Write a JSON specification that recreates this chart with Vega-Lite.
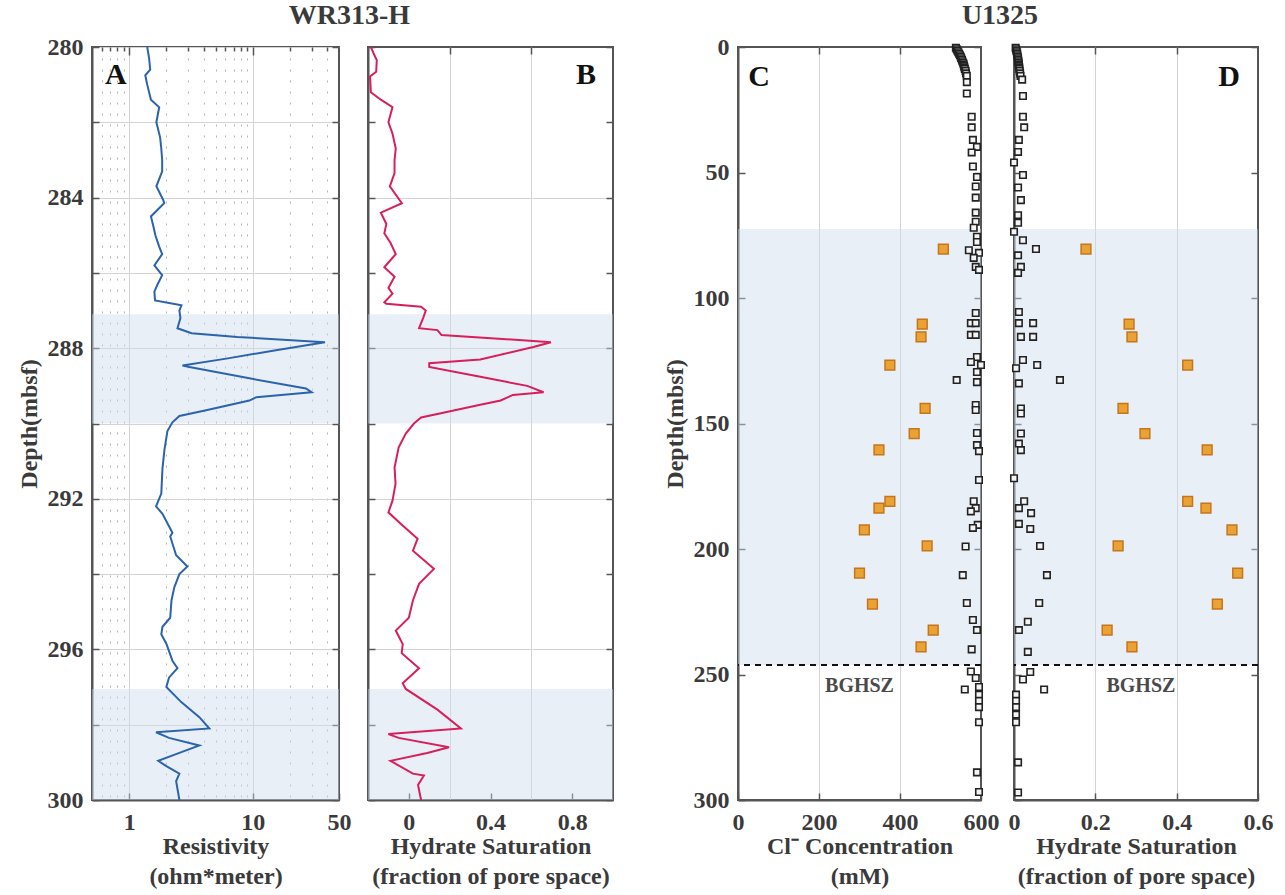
{
  "$schema": "https://vega.github.io/schema/vega-lite/v6.json",
  "background": "white",
  "padding": {"left": 16, "top": 2, "right": 5, "bottom": 2},
  "config": {
    "view": {"stroke": "#555555", "strokeWidth": 2},
    "font": "Liberation Serif",
    "axis": {
      "labelFont": "Liberation Serif", "labelFontWeight": "bold", "labelFontSize": 24, "labelColor": "#3a3a3a",
      "titleFont": "Liberation Serif", "titleFontWeight": "bold", "titleFontSize": 24, "titleColor": "#3a3a3a",
      "domainColor": "#555555", "domainWidth": 2, "tickColor": "#555555", "tickWidth": 1.5,
      "gridColor": "#d4d4d4", "gridWidth": 1, "labelFlush": false
    },
    "title": {"font": "Liberation Serif", "fontSize": 28, "fontWeight": "bold", "color": "#3a3a3a", "anchor": "middle", "offset": 0}
  },
  "datasets": {
    "wr_shade": [{"top": 287.1, "bottom": 290.0}, {"top": 297.05, "bottom": 300.0}],
    "u_shade": [{"top": 72.5, "bottom": 246.2}],
    "u_bghsz": [{"depth": 246.2, "label": "BGHSZ"}],
    "wr_res": [
      {"depth": 280.0, "res": 1.40}, {"depth": 280.3, "res": 1.45}, {"depth": 280.6, "res": 1.48}, {"depth": 280.75, "res": 1.35},
      {"depth": 281.0, "res": 1.40}, {"depth": 281.4, "res": 1.50}, {"depth": 281.6, "res": 1.75}, {"depth": 282.0, "res": 1.66},
      {"depth": 282.4, "res": 1.78}, {"depth": 282.7, "res": 1.82}, {"depth": 283.0, "res": 1.85}, {"depth": 283.3, "res": 1.85},
      {"depth": 283.7, "res": 1.66}, {"depth": 284.07, "res": 1.89}, {"depth": 284.15, "res": 1.92}, {"depth": 284.5, "res": 1.50},
      {"depth": 284.8, "res": 1.58}, {"depth": 285.0, "res": 1.63}, {"depth": 285.3, "res": 1.75}, {"depth": 285.5, "res": 1.85},
      {"depth": 285.8, "res": 1.60}, {"depth": 286.06, "res": 1.85}, {"depth": 286.3, "res": 1.70}, {"depth": 286.5, "res": 1.60},
      {"depth": 286.73, "res": 1.62}, {"depth": 286.86, "res": 2.65}, {"depth": 287.0, "res": 2.55}, {"depth": 287.2, "res": 2.60},
      {"depth": 287.47, "res": 2.46}, {"depth": 287.6, "res": 3.2}, {"depth": 287.7, "res": 7.5}, {"depth": 287.84, "res": 38.5},
      {"depth": 288.06, "res": 15}, {"depth": 288.27, "res": 6.3}, {"depth": 288.46, "res": 2.7}, {"depth": 288.5, "res": 3.07},
      {"depth": 288.8, "res": 9.4}, {"depth": 289.07, "res": 27}, {"depth": 289.17, "res": 30}, {"depth": 289.3, "res": 10.7},
      {"depth": 289.39, "res": 9.4}, {"depth": 289.65, "res": 4.2}, {"depth": 289.8, "res": 2.55}, {"depth": 289.97, "res": 2.24},
      {"depth": 290.2, "res": 2.04}, {"depth": 290.7, "res": 1.93}, {"depth": 291.2, "res": 1.86}, {"depth": 291.86, "res": 1.82},
      {"depth": 292.2, "res": 1.65}, {"depth": 292.4, "res": 1.86}, {"depth": 292.9, "res": 2.24}, {"depth": 293.0, "res": 2.15},
      {"depth": 293.5, "res": 2.40}, {"depth": 293.8, "res": 2.96}, {"depth": 294.0, "res": 2.55}, {"depth": 294.35, "res": 2.32},
      {"depth": 294.7, "res": 2.2}, {"depth": 295.16, "res": 2.15}, {"depth": 295.4, "res": 1.86}, {"depth": 295.6, "res": 1.82},
      {"depth": 295.85, "res": 2.0}, {"depth": 296.3, "res": 2.24}, {"depth": 296.5, "res": 2.46}, {"depth": 296.75, "res": 2.1},
      {"depth": 297.0, "res": 2.0}, {"depth": 297.4, "res": 2.64}, {"depth": 297.8, "res": 3.7}, {"depth": 298.1, "res": 4.46},
      {"depth": 298.2, "res": 1.65}, {"depth": 298.35, "res": 2.1}, {"depth": 298.55, "res": 3.7}, {"depth": 298.75, "res": 2.55},
      {"depth": 298.96, "res": 1.72}, {"depth": 299.1, "res": 2.0}, {"depth": 299.3, "res": 2.55}, {"depth": 299.5, "res": 2.4},
      {"depth": 299.7, "res": 2.46}, {"depth": 300.0, "res": 2.55}
    ],
    "wr_sat": [
      {"depth": 280.0, "sat": -0.186}, {"depth": 280.2, "sat": -0.17}, {"depth": 280.35, "sat": -0.157}, {"depth": 280.66, "sat": -0.16},
      {"depth": 280.78, "sat": -0.19}, {"depth": 281.2, "sat": -0.186}, {"depth": 281.4, "sat": -0.137}, {"depth": 281.6, "sat": -0.08},
      {"depth": 282.0, "sat": -0.10}, {"depth": 282.3, "sat": -0.08}, {"depth": 282.7, "sat": -0.064}, {"depth": 283.0, "sat": -0.07},
      {"depth": 283.35, "sat": -0.07}, {"depth": 283.7, "sat": -0.093}, {"depth": 284.15, "sat": -0.034}, {"depth": 284.4, "sat": -0.137},
      {"depth": 284.7, "sat": -0.11}, {"depth": 284.95, "sat": -0.12}, {"depth": 285.2, "sat": -0.09}, {"depth": 285.5, "sat": -0.064},
      {"depth": 285.85, "sat": -0.12}, {"depth": 286.1, "sat": -0.07}, {"depth": 286.4, "sat": -0.10}, {"depth": 286.55, "sat": -0.08},
      {"depth": 286.78, "sat": -0.12}, {"depth": 286.82, "sat": -0.11}, {"depth": 286.9, "sat": 0.06}, {"depth": 287.0, "sat": 0.083},
      {"depth": 287.2, "sat": 0.07}, {"depth": 287.47, "sat": 0.05}, {"depth": 287.52, "sat": 0.14}, {"depth": 287.65, "sat": 0.16},
      {"depth": 287.84, "sat": 0.696}, {"depth": 287.97, "sat": 0.61}, {"depth": 288.3, "sat": 0.35}, {"depth": 288.4, "sat": 0.10},
      {"depth": 288.5, "sat": 0.10}, {"depth": 288.76, "sat": 0.35}, {"depth": 289.0, "sat": 0.58}, {"depth": 289.17, "sat": 0.66},
      {"depth": 289.24, "sat": 0.51}, {"depth": 289.39, "sat": 0.45}, {"depth": 289.5, "sat": 0.35}, {"depth": 289.73, "sat": 0.157},
      {"depth": 289.84, "sat": 0.06}, {"depth": 290.0, "sat": 0.025}, {"depth": 290.27, "sat": -0.015}, {"depth": 290.64, "sat": -0.05},
      {"depth": 291.17, "sat": -0.07}, {"depth": 291.6, "sat": -0.065}, {"depth": 292.05, "sat": -0.08}, {"depth": 292.36, "sat": -0.10},
      {"depth": 292.66, "sat": -0.04}, {"depth": 293.06, "sat": 0.043}, {"depth": 293.38, "sat": 0.02}, {"depth": 293.86, "sat": 0.123},
      {"depth": 294.26, "sat": 0.05}, {"depth": 294.7, "sat": 0.02}, {"depth": 295.16, "sat": 0.0}, {"depth": 295.5, "sat": -0.064},
      {"depth": 295.86, "sat": -0.03}, {"depth": 296.1, "sat": -0.035}, {"depth": 296.5, "sat": 0.05}, {"depth": 296.9, "sat": -0.03},
      {"depth": 297.05, "sat": -0.015}, {"depth": 297.6, "sat": 0.14}, {"depth": 298.1, "sat": 0.255}, {"depth": 298.25, "sat": -0.10},
      {"depth": 298.35, "sat": -0.05}, {"depth": 298.6, "sat": 0.197}, {"depth": 298.75, "sat": 0.09}, {"depth": 298.96, "sat": -0.09},
      {"depth": 299.3, "sat": 0.02}, {"depth": 299.35, "sat": 0.074}, {"depth": 299.6, "sat": 0.045}, {"depth": 300.0, "sat": 0.06}
    ],
    "u_cl_meas": [
      {"depth": 0.3, "cl": 538}, {"depth": 0.9, "cl": 540}, {"depth": 1.5, "cl": 542}, {"depth": 2.1, "cl": 544}, {"depth": 2.7, "cl": 546},
      {"depth": 3.3, "cl": 548}, {"depth": 3.9, "cl": 550}, {"depth": 4.5, "cl": 551}, {"depth": 5.1, "cl": 553}, {"depth": 5.7, "cl": 554},
      {"depth": 6.3, "cl": 556}, {"depth": 6.9, "cl": 557}, {"depth": 7.5, "cl": 558}, {"depth": 8.1, "cl": 559}, {"depth": 8.7, "cl": 560},
      {"depth": 9.5, "cl": 562}, {"depth": 10.5, "cl": 563}, {"depth": 11.5, "cl": 565},
      {"depth": 14, "cl": 565}, {"depth": 18.5, "cl": 565}, {"depth": 27.8, "cl": 577}, {"depth": 32, "cl": 577},
      {"depth": 37, "cl": 580}, {"depth": 39.8, "cl": 590}, {"depth": 42, "cl": 577}, {"depth": 47.6, "cl": 580}, {"depth": 51.8, "cl": 590},
      {"depth": 55.6, "cl": 587}, {"depth": 60, "cl": 587}, {"depth": 66, "cl": 587}, {"depth": 69.6, "cl": 587}, {"depth": 72, "cl": 582},
      {"depth": 75.6, "cl": 590}, {"depth": 77.7, "cl": 590}, {"depth": 81, "cl": 570}, {"depth": 82, "cl": 595}, {"depth": 84, "cl": 582},
      {"depth": 87.6, "cl": 587}, {"depth": 88.8, "cl": 595}, {"depth": 106, "cl": 587}, {"depth": 110, "cl": 575}, {"depth": 110, "cl": 587},
      {"depth": 114.7, "cl": 575}, {"depth": 114.7, "cl": 587}, {"depth": 123.5, "cl": 590}, {"depth": 125.5, "cl": 575}, {"depth": 126.7, "cl": 600},
      {"depth": 129.5, "cl": 590}, {"depth": 132.7, "cl": 540}, {"depth": 133.5, "cl": 590}, {"depth": 142.6, "cl": 587}, {"depth": 144.6, "cl": 587},
      {"depth": 153.8, "cl": 590}, {"depth": 158.6, "cl": 590}, {"depth": 161, "cl": 595}, {"depth": 172.5, "cl": 595}, {"depth": 181, "cl": 582},
      {"depth": 183.7, "cl": 587}, {"depth": 185, "cl": 575}, {"depth": 190.4, "cl": 592}, {"depth": 191.6, "cl": 580}, {"depth": 199, "cl": 562},
      {"depth": 210.4, "cl": 555}, {"depth": 221.5, "cl": 565}, {"depth": 228.3, "cl": 580}, {"depth": 232.3, "cl": 590}, {"depth": 240, "cl": 577},
      {"depth": 248.8, "cl": 575}, {"depth": 251.4, "cl": 587}, {"depth": 256, "cl": 560}, {"depth": 255, "cl": 595}, {"depth": 258, "cl": 595},
      {"depth": 260.5, "cl": 595}, {"depth": 263, "cl": 595}, {"depth": 269, "cl": 595}, {"depth": 289, "cl": 590}, {"depth": 296.8, "cl": 595}
    ],
    "u_sh_meas": [
      {"depth": 0.3, "sh": 0.004}, {"depth": 0.9, "sh": 0.005}, {"depth": 1.5, "sh": 0.006}, {"depth": 2.1, "sh": 0.007}, {"depth": 2.7, "sh": 0.008},
      {"depth": 3.3, "sh": 0.008}, {"depth": 3.9, "sh": 0.009}, {"depth": 4.5, "sh": 0.01}, {"depth": 5.1, "sh": 0.01}, {"depth": 5.7, "sh": 0.011},
      {"depth": 6.3, "sh": 0.011}, {"depth": 6.9, "sh": 0.012}, {"depth": 7.5, "sh": 0.012}, {"depth": 8.1, "sh": 0.013}, {"depth": 8.7, "sh": 0.013},
      {"depth": 9.5, "sh": 0.014}, {"depth": 10.5, "sh": 0.015}, {"depth": 11.5, "sh": 0.016}, {"depth": 13, "sh": 0.02},
      {"depth": 19.5, "sh": 0.022}, {"depth": 27.8, "sh": 0.022}, {"depth": 32, "sh": 0.025}, {"depth": 37, "sh": 0.012},
      {"depth": 41.8, "sh": 0.01}, {"depth": 46, "sh": 0.0}, {"depth": 51, "sh": 0.022}, {"depth": 56, "sh": 0.01}, {"depth": 61, "sh": 0.017},
      {"depth": 67, "sh": 0.01}, {"depth": 70, "sh": 0.01}, {"depth": 73.6, "sh": 0.0}, {"depth": 77, "sh": 0.022}, {"depth": 80.5, "sh": 0.054},
      {"depth": 83, "sh": 0.01}, {"depth": 87.6, "sh": 0.017}, {"depth": 90, "sh": 0.01}, {"depth": 105.6, "sh": 0.012}, {"depth": 110, "sh": 0.012},
      {"depth": 110, "sh": 0.047}, {"depth": 115.5, "sh": 0.017}, {"depth": 115.5, "sh": 0.047}, {"depth": 124.7, "sh": 0.022}, {"depth": 126.7, "sh": 0.057},
      {"depth": 128, "sh": 0.005}, {"depth": 132.7, "sh": 0.113}, {"depth": 134, "sh": 0.012}, {"depth": 144, "sh": 0.017}, {"depth": 146, "sh": 0.017},
      {"depth": 154, "sh": 0.017}, {"depth": 158, "sh": 0.012}, {"depth": 160.6, "sh": 0.017}, {"depth": 171.8, "sh": 0.0}, {"depth": 181, "sh": 0.025},
      {"depth": 183.7, "sh": 0.012}, {"depth": 185.7, "sh": 0.042}, {"depth": 190, "sh": 0.012}, {"depth": 192, "sh": 0.04}, {"depth": 198.8, "sh": 0.064},
      {"depth": 210.4, "sh": 0.081}, {"depth": 221.5, "sh": 0.062}, {"depth": 229, "sh": 0.034}, {"depth": 232.3, "sh": 0.012}, {"depth": 241, "sh": 0.034},
      {"depth": 249, "sh": 0.04}, {"depth": 252, "sh": 0.022}, {"depth": 256, "sh": 0.074}, {"depth": 258, "sh": 0.005}, {"depth": 260.5, "sh": 0.005},
      {"depth": 263, "sh": 0.005}, {"depth": 266, "sh": 0.005}, {"depth": 269, "sh": 0.005}, {"depth": 285, "sh": 0.01}, {"depth": 297, "sh": 0.01}
    ],
    "u_est": [
      {"depth": 80.5, "cl": 507, "sh": 0.177}, {"depth": 110.4, "cl": 455, "sh": 0.283}, {"depth": 115.5, "cl": 452, "sh": 0.29},
      {"depth": 126.7, "cl": 375, "sh": 0.427}, {"depth": 144, "cl": 462, "sh": 0.268}, {"depth": 154, "cl": 435, "sh": 0.322},
      {"depth": 160.5, "cl": 348, "sh": 0.475}, {"depth": 181, "cl": 375, "sh": 0.427}, {"depth": 183.7, "cl": 348, "sh": 0.472},
      {"depth": 192.4, "cl": 312, "sh": 0.536}, {"depth": 198.8, "cl": 467, "sh": 0.256}, {"depth": 209.6, "cl": 300, "sh": 0.55},
      {"depth": 222, "cl": 332, "sh": 0.50}, {"depth": 232.3, "cl": 482, "sh": 0.229}, {"depth": 239, "cl": 452, "sh": 0.29}
    ]
  },
  "spacing": 47,
  "hconcat": [
    {
      "title": {"text": "WR313-H", "dx": 34},
      "spacing": 29,
      "bounds": "flush",
      "hconcat": [
        {
          "width": 247, "height": 753,
          "layer": [
            {
              "data": {"name": "wr_shade"},
              "mark": {"type": "rect", "color": "#cfdbea", "opacity": 0.45},
              "encoding": {
                "y": {"field": "top", "type": "quantitative", "scale": {"domain": [280, 300], "reverse": true, "nice": false, "zero": false},
                      "axis": {"orient": "right", "values": [280, 282, 284, 286, 288, 290, 292, 294, 296, 298, 300], "labels": false, "grid": false, "domain": false, "tickSize": -7, "title": null}},
                "y2": {"field": "bottom"}
              }
            },
            {
              "data": {"name": "wr_res"},
              "mark": {"type": "line", "color": "#2b64ad", "strokeWidth": 2},
              "encoding": {
                "x": {"field": "res", "type": "quantitative", "scale": {"type": "log", "domain": [0.5, 50], "nice": false},
                      "axis": {"orient": "bottom", "values": [1, 10, 50], "grid": false, "tickSize": -7, "labelPadding": 17, "title": ["Resistivity", "(ohm*meter)"], "titlePadding": 0, "titleLineHeight": 30}},
                "y": {"field": "depth", "type": "quantitative", "scale": {"domain": [280, 300], "reverse": true, "nice": false, "zero": false},
                      "axis": {"orient": "left", "values": [280, 282, 284, 286, 288, 290, 292, 294, 296, 298, 300], "labelExpr": "datum.value % 4 == 0 ? datum.label : ''", "grid": true, "tickSize": -7, "labelPadding": 16, "title": "Depth(mbsf)", "titlePadding": 6}},
                "order": {"field": "depth", "type": "quantitative"}
              }
            },
            {
              "data": {"values": [{"panel": "A"}]},
              "mark": {"type": "text", "font": "Liberation Serif", "fontWeight": "bold", "fontSize": 30, "color": "#111111", "align": "center", "baseline": "middle"},
              "encoding": {
                "text": {"field": "panel"},
                "x": {"datum": 0.78, "type": "quantitative",
                      "axis": {"orient": "top", "values": [0.6, 0.7, 0.8, 0.9, 1, 2, 3, 4, 5, 6, 7, 8, 9, 10, 20, 30, 40], "labels": false, "domain": false, "title": null, "grid": true,
                               "gridDash": {"condition": {"test": "datum.value == 1 || datum.value == 10", "value": []}, "value": [2, 9]},
                               "gridColor": {"condition": {"test": "datum.value == 1 || datum.value == 10", "value": "#d4d4d4"}, "value": "#b5b5b5"},
                               "tickSize": {"condition": {"test": "datum.value == 1 || datum.value == 10", "value": -8}, "value": -4}}},
                "y": {"datum": 280.75, "type": "quantitative", "axis": null}
              }
            }
          ],
          "resolve": {"axis": {"x": "independent", "y": "independent"}}
        },
        {
          "width": 245, "height": 753,
          "layer": [
            {
              "data": {"name": "wr_shade"},
              "mark": {"type": "rect", "color": "#cfdbea", "opacity": 0.45},
              "encoding": {
                "y": {"field": "top", "type": "quantitative", "scale": {"domain": [280, 300], "reverse": true, "nice": false, "zero": false},
                      "axis": {"orient": "right", "values": [280, 282, 284, 286, 288, 290, 292, 294, 296, 298, 300], "labels": false, "grid": false, "domain": false, "tickSize": -7, "title": null}},
                "y2": {"field": "bottom"}
              }
            },
            {
              "data": {"name": "wr_sat"},
              "mark": {"type": "line", "color": "#d81f5c", "strokeWidth": 2},
              "encoding": {
                "x": {"field": "sat", "type": "quantitative", "scale": {"domain": [-0.2, 1.0], "nice": false, "zero": false},
                      "axis": {"orient": "bottom", "values": [0, 0.4, 0.8], "format": "~g", "grid": false, "tickSize": -7, "labelPadding": 17, "title": ["Hydrate Saturation", "(fraction of pore space)"], "titlePadding": 0, "titleLineHeight": 30}},
                "y": {"field": "depth", "type": "quantitative", "scale": {"domain": [280, 300], "reverse": true, "nice": false, "zero": false},
                      "axis": {"orient": "left", "values": [280, 282, 284, 286, 288, 290, 292, 294, 296, 298, 300], "labels": false, "grid": true,
                               "gridOpacity": {"condition": {"test": "datum.value % 4 == 0 && datum.value > 280 && datum.value < 300", "value": 1}, "value": 0},
                               "tickSize": -7, "title": null}},
                "order": {"field": "depth", "type": "quantitative"}
              }
            },
            {
              "data": {"values": [{"panel": "B"}]},
              "mark": {"type": "text", "font": "Liberation Serif", "fontWeight": "bold", "fontSize": 30, "color": "#111111", "align": "center", "baseline": "middle"},
              "encoding": {
                "text": {"field": "panel"},
                "x": {"datum": 0.868, "type": "quantitative",
                      "axis": {"orient": "top", "values": [0.2, 0.6], "labels": false, "domain": false, "title": null, "grid": true, "tickSize": -7}},
                "y": {"datum": 280.75, "type": "quantitative", "axis": null}
              }
            }
          ],
          "resolve": {"axis": {"x": "independent", "y": "independent"}}
        }
      ]
    },
    {
      "title": {"text": "U1325", "dx": 32},
      "spacing": 33,
      "bounds": "flush",
      "hconcat": [
        {
          "width": 243, "height": 753,
          "layer": [
            {
              "data": {"name": "u_shade"},
              "mark": {"type": "rect", "color": "#cfdbea", "opacity": 0.45},
              "encoding": {
                "y": {"field": "top", "type": "quantitative", "scale": {"domain": [0, 300], "reverse": true, "nice": false, "zero": false},
                      "axis": {"orient": "right", "values": [0, 50, 100, 150, 200, 250, 300], "labels": false, "grid": false, "domain": false, "tickSize": -7, "title": null}},
                "y2": {"field": "bottom"}
              }
            },
            {
              "data": {"name": "u_cl_meas"},
              "mark": {"type": "point", "shape": "square", "filled": true, "fill": "#f4f4f4", "stroke": "#222222", "strokeWidth": 1.6, "size": 42, "opacity": 1},
              "encoding": {
                "x": {"field": "cl", "type": "quantitative", "scale": {"domain": [0, 600], "nice": false, "zero": false},
                      "axis": {"orient": "bottom", "values": [0, 200, 400, 600], "grid": false, "tickSize": -7, "labelPadding": 17, "title": ["Cl⁻ Concentration", "(mM)"], "titlePadding": 0, "titleLineHeight": 30}},
                "y": {"field": "depth", "type": "quantitative", "scale": {"domain": [0, 300], "reverse": true, "nice": false, "zero": false},
                      "axis": {"orient": "left", "values": [0, 50, 100, 150, 200, 250, 300], "grid": false, "tickSize": -7, "labelPadding": 16, "title": "Depth(mbsf)", "titlePadding": 6}}
              }
            },
            {
              "data": {"name": "u_est"},
              "mark": {"type": "point", "shape": "square", "filled": true, "fill": "#eba234", "stroke": "#c5761c", "strokeWidth": 1.5, "size": 95, "opacity": 1},
              "encoding": {
                "x": {"field": "cl", "type": "quantitative", "axis": null},
                "y": {"field": "depth", "type": "quantitative", "axis": null}
              }
            },
            {
              "data": {"name": "u_bghsz"},
              "mark": {"type": "rule", "color": "#111111", "strokeWidth": 2, "strokeDash": [6, 5]},
              "encoding": {"y": {"field": "depth", "type": "quantitative", "axis": null}}
            },
            {
              "data": {"name": "u_bghsz"},
              "mark": {"type": "text", "font": "Liberation Serif", "fontWeight": "bold", "fontSize": 20, "color": "#4a4a4a", "align": "center", "baseline": "middle"},
              "encoding": {
                "text": {"field": "label"},
                "x": {"datum": 300, "type": "quantitative", "axis": null},
                "y": {"datum": 254.6, "type": "quantitative", "axis": null}
              }
            },
            {
              "data": {"values": [{"panel": "C"}]},
              "mark": {"type": "text", "font": "Liberation Serif", "fontWeight": "bold", "fontSize": 30, "color": "#111111", "align": "center", "baseline": "middle"},
              "encoding": {
                "text": {"field": "panel"},
                "x": {"datum": 52, "type": "quantitative",
                      "axis": {"orient": "top", "values": [200, 400], "labels": false, "domain": false, "title": null, "grid": true, "tickSize": -7}},
                "y": {"datum": 12, "type": "quantitative", "axis": null}
              }
            }
          ],
          "resolve": {"axis": {"x": "independent", "y": "independent"}}
        },
        {
          "width": 244, "height": 753,
          "layer": [
            {
              "data": {"name": "u_shade"},
              "mark": {"type": "rect", "color": "#cfdbea", "opacity": 0.45},
              "encoding": {
                "y": {"field": "top", "type": "quantitative", "scale": {"domain": [0, 300], "reverse": true, "nice": false, "zero": false},
                      "axis": {"orient": "right", "values": [0, 50, 100, 150, 200, 250, 300], "labels": false, "grid": false, "domain": false, "tickSize": -7, "title": null}},
                "y2": {"field": "bottom"}
              }
            },
            {
              "data": {"name": "u_sh_meas"},
              "mark": {"type": "point", "shape": "square", "filled": true, "fill": "#f4f4f4", "stroke": "#222222", "strokeWidth": 1.6, "size": 42, "opacity": 1},
              "encoding": {
                "x": {"field": "sh", "type": "quantitative", "scale": {"domain": [0, 0.6], "nice": false, "zero": false},
                      "axis": {"orient": "bottom", "values": [0, 0.2, 0.4, 0.6], "format": "~g", "grid": false, "tickSize": -7, "labelPadding": 17, "title": ["Hydrate Saturation", "(fraction of pore space)"], "titlePadding": 0, "titleLineHeight": 30}},
                "y": {"field": "depth", "type": "quantitative", "scale": {"domain": [0, 300], "reverse": true, "nice": false, "zero": false},
                      "axis": {"orient": "left", "values": [0, 50, 100, 150, 200, 250, 300], "labels": false, "grid": false, "tickSize": -7, "title": null}}
              }
            },
            {
              "data": {"name": "u_est"},
              "mark": {"type": "point", "shape": "square", "filled": true, "fill": "#eba234", "stroke": "#c5761c", "strokeWidth": 1.5, "size": 95, "opacity": 1},
              "encoding": {
                "x": {"field": "sh", "type": "quantitative", "axis": null},
                "y": {"field": "depth", "type": "quantitative", "axis": null}
              }
            },
            {
              "data": {"name": "u_bghsz"},
              "mark": {"type": "rule", "color": "#111111", "strokeWidth": 2, "strokeDash": [6, 5]},
              "encoding": {"y": {"field": "depth", "type": "quantitative", "axis": null}}
            },
            {
              "data": {"name": "u_bghsz"},
              "mark": {"type": "text", "font": "Liberation Serif", "fontWeight": "bold", "fontSize": 20, "color": "#4a4a4a", "align": "center", "baseline": "middle"},
              "encoding": {
                "text": {"field": "label"},
                "x": {"datum": 0.312, "type": "quantitative", "axis": null},
                "y": {"datum": 254.6, "type": "quantitative", "axis": null}
              }
            },
            {
              "data": {"values": [{"panel": "D"}]},
              "mark": {"type": "text", "font": "Liberation Serif", "fontWeight": "bold", "fontSize": 30, "color": "#111111", "align": "center", "baseline": "middle"},
              "encoding": {
                "text": {"field": "panel"},
                "x": {"datum": 0.529, "type": "quantitative",
                      "axis": {"orient": "top", "values": [0.2, 0.4], "labels": false, "domain": false, "title": null, "grid": true, "tickSize": -7}},
                "y": {"datum": 12, "type": "quantitative", "axis": null}
              }
            }
          ],
          "resolve": {"axis": {"x": "independent", "y": "independent"}}
        }
      ]
    }
  ]
}
